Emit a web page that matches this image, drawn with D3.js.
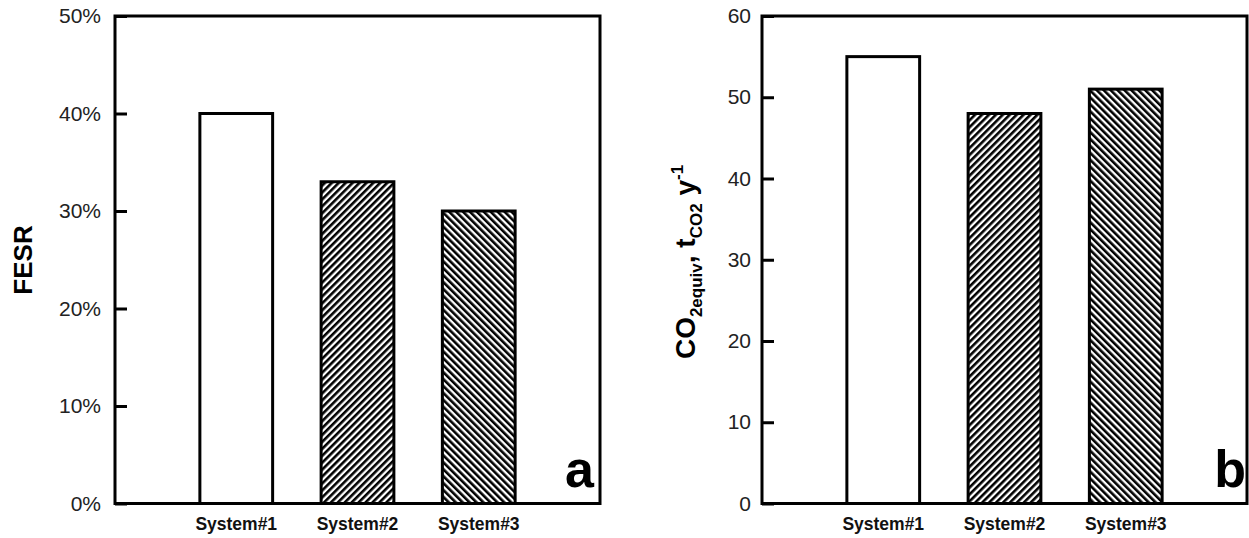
<!DOCTYPE html>
<html>
<head>
<meta charset="utf-8">
<script src="https://cdn.jsdelivr.net/npm/d3@7"></script>
<style>
    body { margin: 0; background: #fff; }
    svg { display: block; font-family: Arial, "Liberation Sans", sans-serif; }
</style>
</head>
<body>
<svg id="chart" width="1249" height="538"></svg>
<script>
// Data
const systems = ['System#1', 'System#2', 'System#3'];
const fesrValues = [0.40, 0.33, 0.30];
const co2Values = [55, 48, 51];
const barFills = ['#fff', 'url(#hatchFwd)', 'url(#hatchBack)'];
const fesrTicks = [0, 0.1, 0.2, 0.3, 0.4, 0.5];
const co2Ticks = [0, 10, 20, 30, 40, 50, 60];

const svg = d3.select('#chart');

// Hatch patterns
const defs = svg.append('defs');
[['hatchFwd', 45], ['hatchBack', -45]].forEach(([id, angle]) => {
    const p = defs.append('pattern')
        .attr('id', id)
        .attr('patternUnits', 'userSpaceOnUse')
        .attr('width', 4.9)
        .attr('height', 4.9)
        .attr('patternTransform', `rotate(${angle})`);
    p.append('rect').attr('width', 4.9).attr('height', 4.9).attr('fill', '#fff');
    p.append('line')
        .attr('x1', 0).attr('y1', 0).attr('x2', 0).attr('y2', 4.9)
        .attr('stroke', '#000')
        .attr('stroke-width', 5.2);
});

function drawPanel(opts) {
    const { x0, x1, y0, y1, values, ticks, domain, fmt, labelGap, letter, letterX } = opts;
    const g = svg.append('g');

    const x = d3.scalePoint().domain(systems).range([x0, x1]).padding(1);
    const y = d3.scaleLinear().domain(domain).range([y1, y0]);
    const barW = x.step() * 0.6;

    // Bars
    g.selectAll('rect.bar')
        .data(values)
        .enter()
        .append('rect')
        .attr('class', 'bar')
        .attr('x', (d, i) => x(systems[i]) - barW / 2)
        .attr('y', d => y(d))
        .attr('width', barW)
        .attr('height', d => y(0) - y(d))
        .attr('fill', (d, i) => barFills[i])
        .attr('stroke', '#000')
        .attr('stroke-width', 3);

    // Y axis (ticks inward)
    const yAxis = d3.axisLeft(y)
        .tickValues(ticks)
        .tickSize(-12)
        .tickPadding(labelGap)
        .tickFormat(fmt);
    const ax = g.append('g')
        .attr('transform', `translate(${x0},0)`)
        .call(yAxis);
    ax.select('.domain').remove();
    ax.selectAll('.tick line').attr('stroke', '#000').attr('stroke-width', 3);
    ax.selectAll('.tick text')
        .attr('font-size', 21)
        .attr('fill', '#222')
        .attr('font-family', 'Arial, "Liberation Sans", sans-serif');

    // Frame
    g.append('rect')
        .attr('x', x0).attr('y', y0)
        .attr('width', x1 - x0).attr('height', y1 - y0)
        .attr('fill', 'none')
        .attr('stroke', '#000')
        .attr('stroke-width', 3);

    // Category labels
    g.selectAll('text.cat')
        .data(systems)
        .enter()
        .append('text')
        .attr('class', 'cat')
        .attr('x', d => x(d))
        .attr('y', 530)
        .attr('text-anchor', 'middle')
        .attr('font-size', 17.5)
        .attr('font-weight', 'bold')
        .attr('fill', '#111')
        .text(d => d);

    // Panel letter
    g.append('text')
        .attr('x', letterX)
        .attr('y', 487)
        .attr('text-anchor', 'end')
        .attr('font-size', 52)
        .attr('font-weight', 'bold')
        .text(letter);

    return g;
}

drawPanel({
    x0: 115, x1: 600, y0: 16, y1: 503.5,
    values: fesrValues, ticks: fesrTicks, domain: [0, 0.5],
    fmt: d3.format('.0%'), labelGap: 14, letter: 'a', letterX: 594
});

drawPanel({
    x0: 762, x1: 1247, y0: 16, y1: 503.5,
    values: co2Values, ticks: co2Ticks, domain: [0, 60],
    fmt: d3.format('d'), labelGap: 11, letter: 'b', letterX: 1246
});

// Y axis titles
svg.append('text')
    .attr('transform', 'translate(32,260) rotate(-90)')
    .attr('text-anchor', 'middle')
    .attr('font-size', 26)
    .attr('font-weight', 'bold')
    .text('FESR');

const t2 = svg.append('text')
    .attr('transform', 'translate(695,262) rotate(-90)')
    .attr('text-anchor', 'middle')
    .attr('font-size', 28)
    .attr('font-weight', 'bold');
t2.append('tspan').text('CO');
t2.append('tspan').attr('font-size', 17).attr('dy', 7).text('2equiv');
t2.append('tspan').attr('dy', -7).text(', t');
t2.append('tspan').attr('font-size', 17).attr('dy', 7).text('CO2');
t2.append('tspan').attr('dy', -7).text(' y');
t2.append('tspan').attr('font-size', 17).attr('dy', -12).text('-1');
</script>
</body>
</html>
